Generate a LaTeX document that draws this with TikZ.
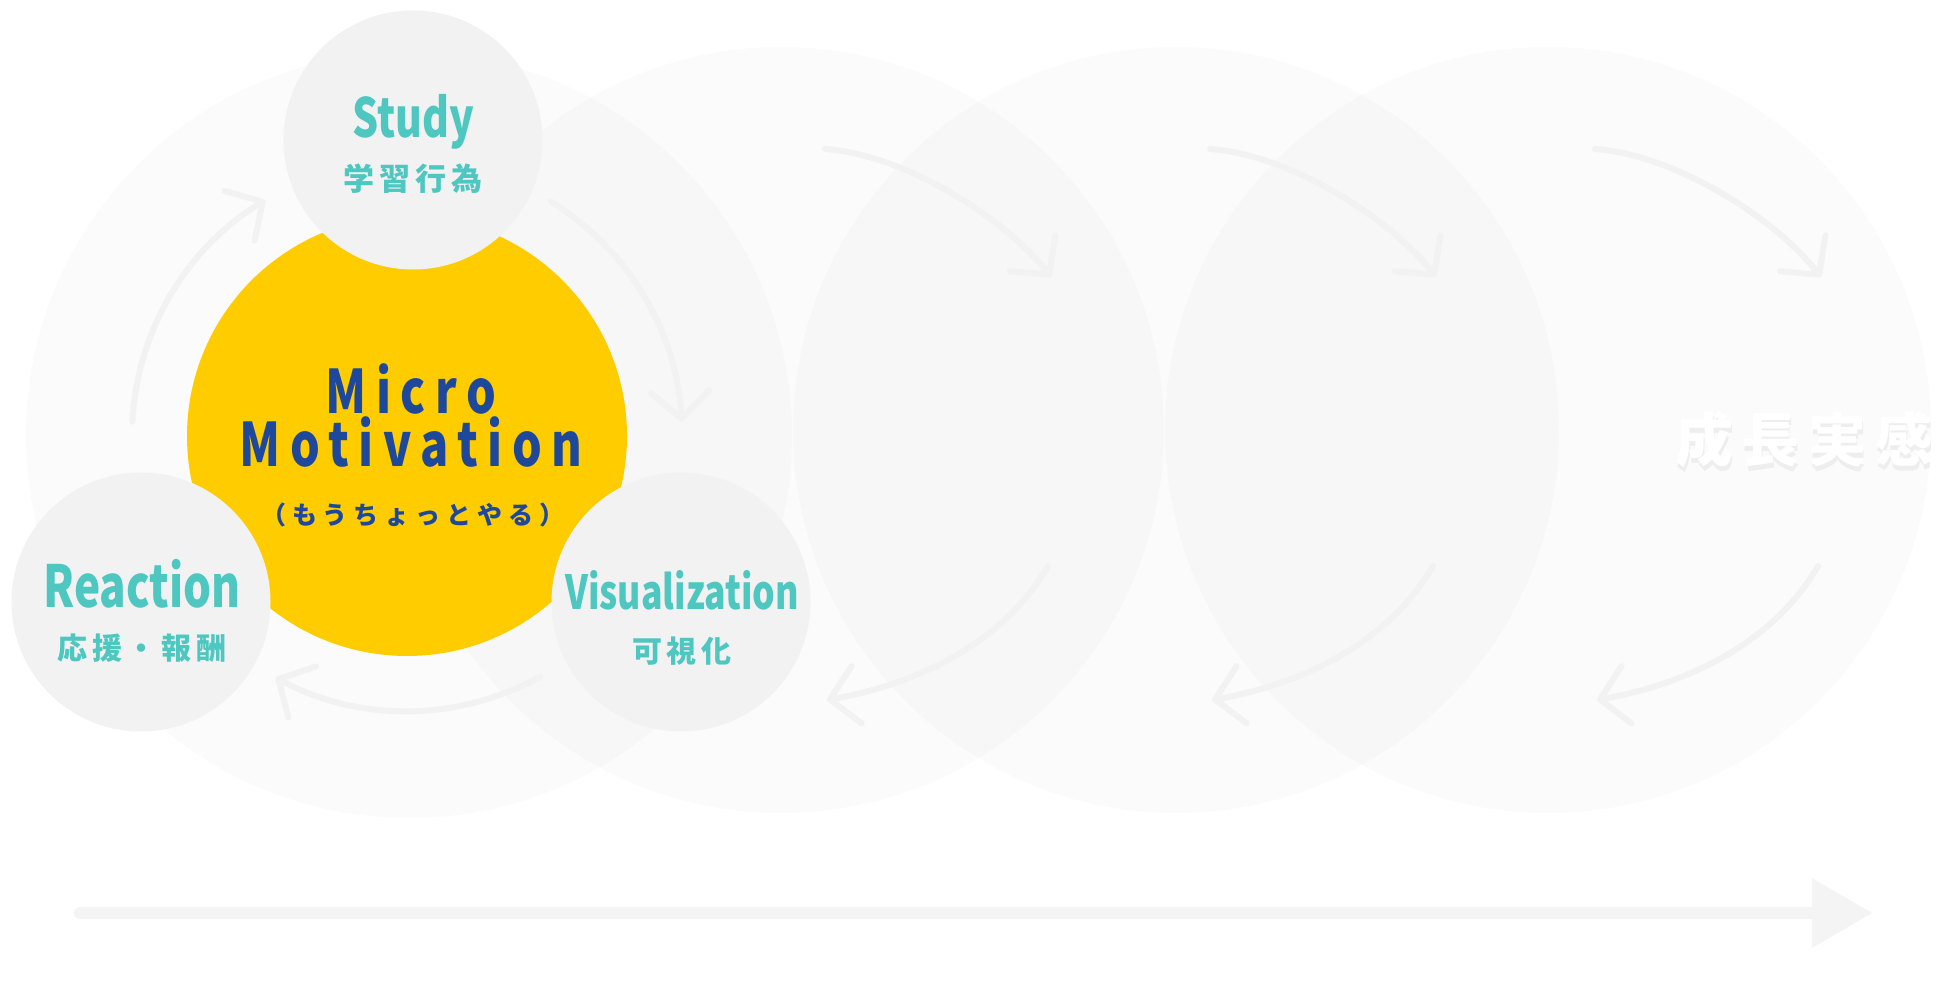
\documentclass[tikz,border=0pt]{standalone}
\usepackage{fontspec}
\setmainfont{Noto Sans CJK JP}
\newfontfamily\latf{Noto Sans CJK JP}[FakeStretch=0.76]
\newfontfamily\mmf{Noto Sans CJK JP}[FakeStretch=0.78,LetterSpace=16]
\newfontfamily\jpf{Noto Sans CJK JP}[LetterSpace=16]
\newfontfamily\moujpf{Noto Sans CJK JP}[LetterSpace=24]
\newfontfamily\bigjpf{Noto Sans CJK JP}[LetterSpace=15]
\usetikzlibrary{arrows.meta,calc}
\definecolor{teal1}{RGB}{78,199,193}
\definecolor{navy1}{RGB}{30,72,155}
\definecolor{mmy}{RGB}{255,204,0}
\definecolor{cgray}{RGB}{242,242,242}
\definecolor{agray}{RGB}{242,242,242}
\definecolor{tgray}{RGB}{244,244,244}
\begin{document}
\begin{tikzpicture}[x=1pt,y=1pt,
  bigc/.style={circle,fill=black,fill opacity=0.015,minimum size=766pt,inner sep=0pt},
  smallc/.style={circle,fill=cgray,minimum size=259pt,inner sep=0pt},
  glow/.style={fill=white,fill opacity=0.09},
  cyc/.style={draw=agray,line width=6pt,line cap=round,-{Straight Barb[length=27pt,width=58pt,round]}},
  lat/.style={inner sep=0pt,anchor=base,text=teal1},
  jp/.style={inner sep=0pt,text=teal1},
]
\useasboundingbox (0,0) rectangle (1946,1006);
\fill[white] (0,0) rectangle (1946,1006);
\node[bigc] (b1) at (409,571) {};
\node[bigc] (b2) at (781,576) {};
\node[bigc] (b3) at (1176,576) {};
\node[bigc] (b4) at (1548,576) {};
% glows
\foreach \x/\y/\r in {407/570/220,413/866/129,141/404/130,681/404/130}{
  \foreach \g in {3,6,...,21} \fill[glow] (\x,\y) circle[radius=\r+\g];
}
% cycle arrows around Micro Motivation
\coordinate (yc) at (407,570);
\coordinate (l0) at ($(yc)+(177:275)$);
\coordinate (r0) at ($(yc)+(58.5:275)$);
\coordinate (d0) at ($(yc)+(-61:275)$);
\draw[cyc] (l0) arc[start angle=177,end angle=121,radius=275];
\draw[cyc] (r0) arc[start angle=58.5,end angle=3,radius=275];
\draw[cyc] (d0) arc[start angle=-61,end angle=-118.5,radius=275];
% arrows in the growth circles
\foreach \dx in {0,385,770}{
  \coordinate (ta\dx) at (825+\dx,857);
  \coordinate (tb\dx) at (1051+\dx,729);
  \coordinate (ba\dx) at (1048+\dx,440);
  \coordinate (bb\dx) at (827+\dx,306);
  \draw[cyc] (ta\dx) .. controls +(-4:80) and +(128:75) .. (tb\dx);
  \draw[cyc] (ba\dx) .. controls +(240:90) and +(10:90) .. (bb\dx);
}
% timeline
\coordinate (t0) at (80,93);
\coordinate (t1) at (1813,93);
\draw[tgray,line width=12pt,line cap=round] (t0) -- (t1);
\fill[tgray] (1812,128) -- (1872,93) -- (1812,58) -- cycle;
% main circles
\node[circle,fill=mmy,minimum size=440pt,inner sep=0pt] (mm) at (407,570) {};
\node[smallc] (study) at (413,866) {};
\node[smallc] (react) at (141,404) {};
\node[smallc] (vis) at (681,404) {};
% texts
\node[lat,font={\latf\bfseries\fontsize{54}{60}\selectfont}] (tstudy) at (413,868) {Study};
\node[jp,font={\jpf\bfseries\fontsize{31}{36}\selectfont}] (jstudy) at (413,827) {学習行為};
\node[lat,font={\latf\bfseries\fontsize{58}{66}\selectfont}] (treact) at (142,398) {Reaction};
\node[jp,font={\jpf\bfseries\fontsize{30}{36}\selectfont}] (jreact) at (142,358) {応援・報酬};
\node[lat,font={\latf\bfseries\fontsize{47}{54}\selectfont}] (tvis) at (682,396) {Visualization};
\node[jp,font={\jpf\bfseries\fontsize{30}{36}\selectfont}] (jvis) at (682,355) {可視化};
\node[inner sep=0pt,anchor=base,align=center,text=navy1,font={\mmf\bfseries\fontsize{60}{53}\selectfont}] (tmm) at (411,539) {Micro\\Motivation};
\node[inner sep=0pt,text=navy1,font={\moujpf\bfseries\fontsize{25}{30}\selectfont}] (tmou) at (413,491) {（もうちょっとやる）};
% growth feeling
\begin{scope}
\clip (1548,576) circle[radius=383];
\node[inner sep=0pt,anchor=west,text=black,text opacity=0.05,font={\bigjpf\bfseries\fontsize{58}{64}\selectfont}] (growsh) at (1676,562) {成長実感};
\node[inner sep=0pt,anchor=west,text=white,font={\bigjpf\bfseries\fontsize{58}{64}\selectfont}] (grow) at (1675,567) {成長実感};
\end{scope}
\end{tikzpicture}
\end{document}
